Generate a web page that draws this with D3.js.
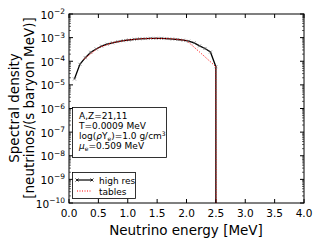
<!DOCTYPE html>
<html><head><meta charset="utf-8">
<script src="https://cdn.jsdelivr.net/npm/d3@7"></script>
<style>body{margin:0;background:#fff}svg{display:block;font-family:"DejaVu Sans",sans-serif}</style>
</head><body><svg id="c" width="320" height="240"></svg>
<script>
// high-res energies (MeV) and log10 spectral density
const hiE = [0.0926,0.1852,0.2778,0.3704,0.4630,0.5556,0.6481,0.7407,0.8333,0.9259,1.0185,1.1111,1.2037,1.2963,1.3889,1.4815,1.5741,1.6667,1.7593,1.8519,1.9444,2.0370,2.1296,2.2222,2.3148,2.4074,2.5,2.5];
const hiLog = [-4.75,-4.13,-3.85,-3.62,-3.48,-3.36,-3.28,-3.22,-3.17,-3.13,-3.10,-3.07,-3.05,-3.04,-3.03,-3.03,-3.03,-3.04,-3.06,-3.08,-3.11,-3.15,-3.22,-3.35,-3.46,-3.61,-4.23,-12];
const tabE = [0.25,0.5,0.75,1.0,1.25,1.5,1.75,2.0,2.25,2.5,2.505];
const tabLog = [-3.92,-3.43,-3.21,-3.10,-3.045,-3.03,-3.05,-3.12,-3.67,-4.23,-12];
const xTicks = [0.0,0.5,1.0,1.5,2.0,2.5,3.0,3.5,4.0];
const yExps = [-2,-3,-4,-5,-6,-7,-8,-9,-10];
const infoLines = ["A,Z=21,11","T=0.0009 MeV"];

const svg = d3.select("#c");
const L=69,R=304,T=14,B=203;
const x = d3.scaleLinear().domain([0,4]).range([L,R]);
const y = d3.scaleLog().domain([1e-10,1e-2]).range([B,T]);

svg.append("clipPath").attr("id","cp").append("rect").attr("x",L).attr("y",T).attr("width",R-L).attr("height",B-T);

const g = svg.append("g");
const maj=4, mnr=2;
xTicks.forEach(t=>{
  const px=x(t);
  g.append("line").attr("x1",px).attr("x2",px).attr("y1",B).attr("y2",B-maj).attr("stroke","#000");
  g.append("line").attr("x1",px).attr("x2",px).attr("y1",T).attr("y2",T+maj).attr("stroke","#000");
  svg.append("text").attr("x",px).attr("y",217).attr("text-anchor","middle").attr("font-size",10.5).text(t.toFixed(1));
});
yExps.forEach(e=>{
  const py=y(Math.pow(10,e));
  g.append("line").attr("x1",L).attr("x2",L+maj).attr("y1",py).attr("y2",py).attr("stroke","#000");
  g.append("line").attr("x1",R).attr("x2",R-maj).attr("y1",py).attr("y2",py).attr("stroke","#000");
  if(e>-10){
    for(let m=2;m<10;m++){
      const pm=y(m*Math.pow(10,e-1));
      g.append("line").attr("x1",L).attr("x2",L+mnr).attr("y1",pm).attr("y2",pm).attr("stroke","#000").attr("stroke-width",0.6);
      g.append("line").attr("x1",R).attr("x2",R-mnr).attr("y1",pm).attr("y2",pm).attr("stroke","#000").attr("stroke-width",0.6);
    }
  }
  const t=svg.append("text").attr("x",65).attr("y",py+4.5).attr("text-anchor","end").attr("font-size",10.5);
  t.append("tspan").text("10");
  t.append("tspan").attr("dy",-4.5).attr("font-size",7.5).text("\u2212"+(-e));
});

const line = d3.line().x(d=>x(d[0])).y(d=>y(Math.pow(10,d[1])));
const hi = hiE.map((e,i)=>[e,hiLog[i]]);
const tab = tabE.map((e,i)=>[e,tabLog[i]]);
const pg = svg.append("g").attr("clip-path","url(#cp)");
pg.append("path").attr("d",line(hi)).attr("fill","none").attr("stroke","#000").attr("stroke-width",1.3);
hi.slice(0,27).forEach(d=>{
  const px=x(d[0]),py=y(Math.pow(10,d[1])),s=1.5;
  pg.append("path").attr("d",`M${px-s},${py-s}L${px+s},${py+s}M${px-s},${py+s}L${px+s},${py-s}`).attr("stroke","#666").attr("stroke-width",0.7);
});
pg.append("path").attr("d",line(tab)).attr("fill","none").attr("stroke","#f00").attr("stroke-width",1).attr("stroke-dasharray","1,1.5");

svg.append("rect").attr("x",L).attr("y",T).attr("width",R-L).attr("height",B-T).attr("fill","none").attr("stroke","#000").attr("stroke-width",1);

svg.append("rect").attr("x",72.5).attr("y",107.5).attr("width",94).attr("height",50).attr("fill","#fff").attr("stroke","#000").attr("stroke-width",0.8);
const fs=9;
svg.append("text").attr("x",79).attr("y",119).attr("font-size",fs).text(infoLines[0]);
svg.append("text").attr("x",79).attr("y",129).attr("font-size",fs).text(infoLines[1]);
const t3=svg.append("text").attr("x",79).attr("y",139).attr("font-size",fs);
t3.append("tspan").text("log(");
t3.append("tspan").attr("font-style","italic").text("\u03C1");
t3.append("tspan").text("Y");
t3.append("tspan").attr("font-size",6).attr("dy",2).text("e");
t3.append("tspan").attr("dy",-2).text(")=1.0 g/cm");
t3.append("tspan").attr("font-size",6).attr("dy",-3).text("3");
const t4=svg.append("text").attr("x",79).attr("y",149).attr("font-size",fs);
t4.append("tspan").attr("font-style","italic").text("\u03BC");
t4.append("tspan").attr("font-size",6).attr("dy",2).text("e");
t4.append("tspan").attr("dy",-2).text("=0.509 MeV");

svg.append("rect").attr("x",72.5).attr("y",172.5).attr("width",63).attr("height",26).attr("fill","#fff").attr("stroke","#000").attr("stroke-width",0.8);
svg.append("line").attr("x1",77).attr("x2",92).attr("y1",180).attr("y2",180).attr("stroke","#000").attr("stroke-width",1.2);
[77,92].forEach(px=>{const s=1.5;svg.append("path").attr("d",`M${px-s},${180-s}L${px+s},${180+s}M${px-s},${180+s}L${px+s},${180-s}`).attr("stroke","#000").attr("stroke-width",0.8);});
svg.append("text").attr("x",99).attr("y",183.5).attr("font-size",fs).text("high res");
svg.append("line").attr("x1",77).attr("x2",92).attr("y1",191).attr("y2",191).attr("stroke","#f00").attr("stroke-width",1).attr("stroke-dasharray","1,1.5");
svg.append("text").attr("x",99).attr("y",194.5).attr("font-size",fs).text("tables");

svg.append("text").attr("x",186).attr("y",235).attr("text-anchor","middle").attr("font-size",13.5).text("Neutrino energy [MeV]");
svg.append("text").attr("transform","translate(19,108) rotate(-90)").attr("text-anchor","middle").attr("font-size",13.5).text("Spectral density");
svg.append("text").attr("transform","translate(34,108) rotate(-90)").attr("text-anchor","middle").attr("font-size",13.5).text("[neutrinos/(s baryon MeV)]");
</script></body></html>
